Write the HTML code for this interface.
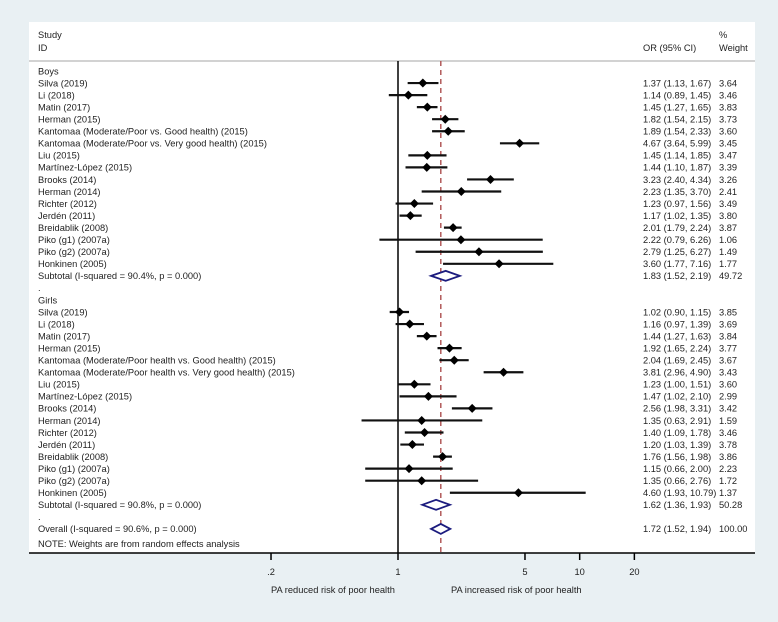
<!DOCTYPE html>
<html><head><meta charset="utf-8"><style>
html,body{margin:0;padding:0;background:#e9f0f3;}
svg{display:block;font-family:"Liberation Sans",Arial,sans-serif;}
</style></head><body>
<svg id="chart" width="778" height="622" viewBox="0 0 778 622" xmlns="http://www.w3.org/2000/svg">
<rect x="0" y="0" width="778" height="622" fill="#e9f0f3"/>
<rect x="29" y="22" width="726" height="531" fill="#ffffff"/>
<g font-size="9.3" fill="#222">
<text x="38" y="38">Study</text>
<text x="38" y="51">ID</text>
<text x="643" y="51">OR (95% CI)</text>
<text x="719" y="38">%</text>
<text x="719" y="51">Weight</text>
</g>
<line x1="29" y1="61" x2="755" y2="61" stroke="#c4c4c4" stroke-width="1.5"/>
<g id="rows" font-size="9.3" fill="#222"></g>
<g id="marks"></g>
<g id="axis"></g>
</svg>
<script>
const labels = ["Boys","Silva (2019)","Li (2018)","Matin (2017)","Herman (2015)","Kantomaa (Moderate/Poor vs. Good health) (2015)","Kantomaa (Moderate/Poor vs. Very good health) (2015)","Liu (2015)","Martínez-López (2015)","Brooks (2014)","Herman (2014)","Richter (2012)","Jerdén (2011)","Breidablik (2008)","Piko (g1) (2007a)","Piko (g2) (2007a)","Honkinen (2005)","Subtotal  (I-squared = 90.4%, p = 0.000)",".","Girls","Silva (2019)","Li (2018)","Matin (2017)","Herman (2015)","Kantomaa (Moderate/Poor health vs. Good health) (2015)","Kantomaa (Moderate/Poor health vs. Very good health) (2015)","Liu (2015)","Martínez-López (2015)","Brooks (2014)","Herman (2014)","Richter (2012)","Jerdén (2011)","Breidablik (2008)","Piko (g1) (2007a)","Piko (g2) (2007a)","Honkinen (2005)","Subtotal  (I-squared = 90.8%, p = 0.000)",".","Overall  (I-squared = 90.6%, p = 0.000)"];
const kinds = ["h","s","s","s","s","s","s","s","s","s","s","s","s","s","s","s","s","d","b","h","s","s","s","s","s","s","s","s","s","s","s","s","s","s","s","s","d","b","d"];
const est = [null,1.37,1.14,1.45,1.82,1.89,4.67,1.45,1.44,3.23,2.23,1.23,1.17,2.01,2.22,2.79,3.60,1.83,null,null,1.02,1.16,1.44,1.92,2.04,3.81,1.23,1.47,2.56,1.35,1.40,1.20,1.76,1.15,1.35,4.60,1.62,null,1.72];
const lower = [null,1.13,0.89,1.27,1.54,1.54,3.64,1.14,1.10,2.40,1.35,0.97,1.02,1.79,0.79,1.25,1.77,1.52,null,null,0.90,0.97,1.27,1.65,1.69,2.96,1.00,1.02,1.98,0.63,1.09,1.03,1.56,0.66,0.66,1.93,1.36,null,1.52];
const upper = [null,1.67,1.45,1.65,2.15,2.33,5.99,1.85,1.87,4.34,3.70,1.56,1.35,2.24,6.26,6.27,7.16,2.19,null,null,1.15,1.39,1.63,2.24,2.45,4.90,1.51,2.10,3.31,2.91,1.78,1.39,1.98,2.00,2.76,10.79,1.93,null,1.94];
const weights = [null,"3.64","3.46","3.83","3.73","3.60","3.45","3.47","3.39","3.26","2.41","3.49","3.80","3.87","1.06","1.49","1.77","49.72",null,null,"3.85","3.69","3.84","3.77","3.67","3.43","3.60","2.99","3.42","1.59","3.46","3.78","3.86","2.23","1.72","1.37","50.28",null,"100.00"];
const tickValues = [0.2,1,5,10,20];
const tickLabels = [".2","1","5","10","20"];
const overallValue = 1.72;

const NS="http://www.w3.org/2000/svg";
function x(v){return 398 + 78.9*Math.log(v);}
function y(i){return 71 + 12.05*i;}
function fmt(v){return v.toFixed(2);}
function mk(tag,attrs,parent){const e=document.createElementNS(NS,tag);for(const k in attrs)e.setAttribute(k,attrs[k]);parent.appendChild(e);return e;}
const rows=document.getElementById('rows'), marks=document.getElementById('marks'), axis=document.getElementById('axis');

// null line & overall dashed line
const nl=mk('line',{x1:x(1),y1:61,x2:x(1),y2:553,stroke:'#000','stroke-width':1.5},marks);


const ol=mk('line',{x1:x(overallValue),y1:61,x2:x(overallValue),y2:553,stroke:'#b25a5a','stroke-width':1.5,'stroke-dasharray':'5,4'},marks);



labels.forEach((lab,i)=>{
  const yy=y(i);
  const t=mk('text',{x:38,y:yy+3.3},rows); t.textContent=lab;
  
  
  if(est[i]!==null){
    const ci=mk('text',{x:643,y:yy+3.3},rows);
    ci.textContent=fmt(est[i])+" ("+fmt(lower[i])+", "+fmt(upper[i])+")";
    
    
    const w=mk('text',{x:719,y:yy+3.3},rows); w.textContent=weights[i];
    
    
    if(kinds[i]==='s'){
      const l=mk('line',{x1:x(lower[i]),y1:yy,x2:x(upper[i]),y2:yy,stroke:'#111','stroke-width':2.2},marks);
      
      
      const cx=x(est[i]);
      const p=mk('polygon',{points:`${cx-4.5},${yy} ${cx},${yy-4.5} ${cx+4.5},${yy} ${cx},${yy+4.5}`,fill:'#000'},marks);
      
      
    } else {
      const p=mk('polygon',{points:`${x(lower[i])},${yy} ${x(est[i])},${yy-5} ${x(upper[i])},${yy} ${x(est[i])},${yy+5}`,fill:'#fff',stroke:'#1b1b7e','stroke-width':1.8},marks);
      
      
    }
  }
});
const note=mk('text',{x:38,y:547},rows); note.textContent="NOTE: Weights are from random effects analysis";



const al=mk('line',{x1:29,y1:553,x2:755,y2:553,stroke:'#000','stroke-width':1.5},axis);


tickValues.forEach((v,k)=>{
  const tk=mk('line',{x1:x(v),y1:553,x2:x(v),y2:560,stroke:'#000','stroke-width':1.5},axis);
  
  
  const tl=mk('text',{x:x(v),y:575,'text-anchor':'middle','font-size':9.3,fill:'#222'},axis);
  tl.textContent=tickLabels[k];
  
  
});
const a1=mk('text',{x:271,y:593,'font-size':9.3,fill:'#222'},axis); a1.textContent="PA reduced risk of poor health";


const a2=mk('text',{x:451,y:593,'font-size':9.3,fill:'#222'},axis); a2.textContent="PA increased risk of poor health";


</script>
</body></html>
